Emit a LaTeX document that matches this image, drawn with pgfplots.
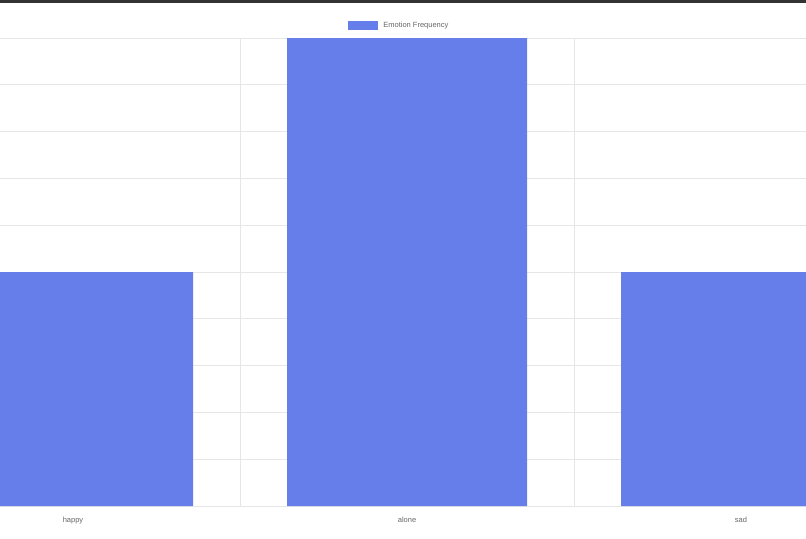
\documentclass[border=0pt]{standalone}
\usepackage{fontspec}
\setmainfont{Liberation Sans}
\usepackage{pgfplots}
\pgfplotsset{compat=1.18}
\definecolor{barblue}{HTML}{667EEA}
\definecolor{gridgray}{HTML}{E6E6E6}
\definecolor{labelgray}{HTML}{666666}
\definecolor{topbar}{HTML}{333333}
\begin{document}
\begin{tikzpicture}[x=0.5pt,y=0.5pt]
\path[use as bounding box, clip] (0,0) rectangle (806,538);
\begin{axis}[
  at={(-47pt,16pt)}, anchor=south west,
  scale only axis, width=501pt, height=234pt,
  xmin=-0.5, xmax=2.5, ymin=0, ymax=2,
  ybar, bar width=120pt,
  axis line style={draw=gridgray, line width=0.4pt},
  xtick={0,1,2}, xticklabels={happy,alone,sad},
  major x tick style={draw=none},
  extra x ticks={-0.5,0.5,1.5,2.5}, extra x tick labels={},
  extra x tick style={grid=major, major tick length=3pt, tick align=outside,
    tick style={draw=gridgray, line width=0.4pt}},
  ytick={0,0.2,0.4,0.6,0.8,1,1.2,1.4,1.6,1.8,2}, yticklabels={},
  ymajorgrids, major y tick style={draw=none},
  grid style={draw=gridgray, line width=0.4pt},
  xticklabel style={anchor=base, yshift=-4pt, inner sep=0pt,
    font=\fontsize{3.75}{4.5}\selectfont, text=labelgray},
  legend style={at={(axis description cs:0.4406,1.0277)}, anchor=west,
    draw=none, fill=none, inner sep=0pt, nodes={inner sep=1.25pt},
    font=\fontsize{3.75}{4.5}\selectfont, text=labelgray},
  legend cell align=left,
]
\addplot[fill=barblue, draw=none,
  legend image code/.code={\fill[barblue] (0pt,-2.25pt) rectangle (15pt,2.25pt);
    \path (16.5pt,0pt);}]
  coordinates {(0,1) (1,2) (2,1)};
\addlegendentry{\raisebox{-1.2pt}{Emotion Frequency}}
\end{axis}
\fill[topbar] (0,535) rectangle (806,538);
\end{tikzpicture}
\end{document}
